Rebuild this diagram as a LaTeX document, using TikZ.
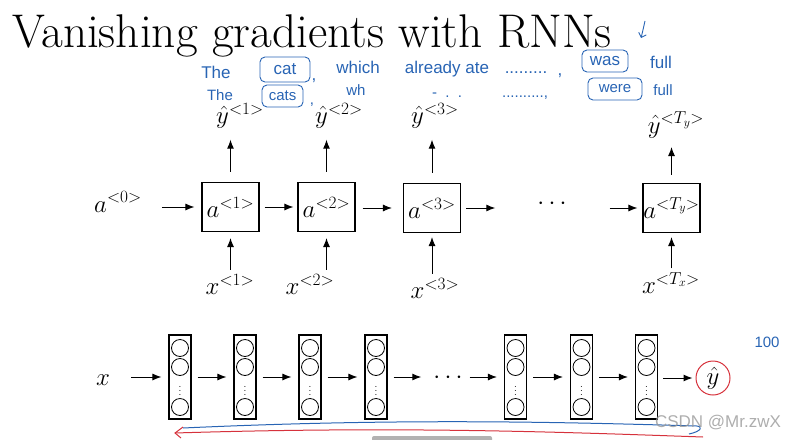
\documentclass[tikz,border=0pt]{standalone}
\usepackage{fontspec}
\newfontfamily\handfont{Liberation Sans}
\usetikzlibrary{arrows.meta}
\definecolor{inkblue}{RGB}{40,100,180}
\definecolor{inkred}{RGB}{214,50,60}

\begin{document}
\begin{tikzpicture}[x=1pt, y=-1pt,
  cell/.style={draw, line width=1.1pt, minimum width=57pt, minimum height=49pt, inner sep=0pt, font=\fontsize{24}{24}\selectfont},
  lbl/.style={inner sep=1pt, font=\fontsize{24}{24}\selectfont},
  link/.style={-{Latex[length=9pt,width=7pt]}, line width=1pt},
  layer/.style={draw, line width=1.1pt, minimum width=22pt, minimum height=84pt, inner sep=0pt,
    path picture={
      \draw[line width=0.8pt] (path picture bounding box.center) ++(0,-29) circle (8.5pt);
      \draw[line width=0.8pt] (path picture bounding box.center) ++(0,-10) circle (8.5pt);
      \draw[line width=0.8pt] (path picture bounding box.center) ++(0,30) circle (8.5pt);
      \path (path picture bounding box.center) ++(0,11) node[inner sep=0pt, font=\fontsize{10}{10}\selectfont] {$\vdots$};
    }},
  hand/.style={inkblue, inner sep=0pt, anchor=base, font=\handfont\fontsize{17}{17}\selectfont},
  handsm/.style={hand, font=\handfont\fontsize{15}{15}\selectfont},
  wordbox/.style={draw=inkblue, line width=0.9pt, rounded corners=5pt, inner sep=0pt}]
\useasboundingbox (0,0) rectangle (799,439);

\node[anchor=base west, inner sep=0pt, font=\fontsize{47.3}{47.3}\selectfont] (title) at (12,47) {Vanishing gradients with RNNs};

\node[hand] (the1) at (216,78) {The};
\node[wordbox, minimum width=50pt, minimum height=25pt, hand, anchor=center] (cat) at (285,69.5) {cat};
\node[hand] (c1) at (314,80) {,};
\node[hand] (which) at (358,73) {which};
\node[hand] (ate) at (447,73) {already ate};
\node[hand] (dots1) at (526,73) {.........};
\node[hand] (c2) at (560,75) {,};
\node[wordbox, minimum width=46pt, minimum height=22pt, hand, anchor=center] (was) at (605,61) {was};
\node[hand] (full1) at (661,68) {full};
\draw[inkblue, line width=0.9pt, -{Straight Barb[length=4pt]}] (645,21) .. controls (644,29) .. (641,38);

\node[handsm] (the2) at (220,100) {The};
\node[wordbox, minimum width=41pt, minimum height=22pt, handsm, anchor=center] (cats) at (282.5,96) {cats};
\node[handsm] (c3) at (312,104) {,};
\node[handsm] (wh) at (356,95) {wh};
\node[handsm] (dots2) at (447,97) {-\ \ .\ \ .};
\node[handsm] (dots3) at (525,97) {..........,};
\node[wordbox, minimum width=54pt, minimum height=22pt, handsm, anchor=center] (were) at (615,89) {were};
\node[handsm] (full2) at (663,95) {full};

\node[lbl, anchor=base] (a0) at (118,212) {$a^{<0>}$};
\node[cell] (a1) at (230.5,207) {$a^{<1>}$};
\node[cell] (a2) at (326.5,207) {$a^{<2>}$};
\node[cell] (a3) at (432,208) {$a^{<3>}$};
\node[lbl] (dotsA) at (552,204) {$\cdots$};
\node[cell] (aT) at (671.5,208) {$a^{<T_y>}$};

\node[lbl] (y1) at (240,116) {$\hat{y}^{<1>}$};
\node[lbl] (y2) at (339,116) {$\hat{y}^{<2>}$};
\node[lbl] (y3) at (435,116) {$\hat{y}^{<3>}$};
\node[lbl] (yT) at (676,125) {$\hat{y}^{<T_y>}$};

\node[lbl] (x1) at (230,284) {$x^{<1>}$};
\node[lbl] (x2) at (310,284) {$x^{<2>}$};
\node[lbl] (x3) at (435,288) {$x^{<3>}$};
\node[lbl] (xT) at (671,283) {$x^{<T_x>}$};

\draw[link, shorten <=19pt, shorten >=7pt] (a0.east |- a1) -- (a1.west);
\draw[link, shorten <=5pt, shorten >=4pt] (a1) -- (a2);
\draw[link, shorten <=7pt, shorten >=11pt] (a2.east |- a3) -- (a3.west);
\draw[link, shorten <=5pt, shorten >=41pt] (a3.east) -- (a3.east -| dotsA.west);
\draw[link, shorten <=42pt, shorten >=5pt] (aT.west -| dotsA.east) -- (aT.west);

\draw[link, shorten <=10pt, shorten >=10pt] (a1.north) -- (a1.north |- y1.south);
\draw[link, shorten <=10pt, shorten >=10pt] (a2.north) -- (a2.north |- y2.south);
\draw[link, shorten <=10pt, shorten >=10pt] (a3.north) -- (a3.north |- y3.south);
\draw[link, shorten <=8pt, shorten >=8pt] (aT.north) -- (aT.north |- yT.south);

\draw[link, shorten <=3pt, shorten >=6pt] (a1.south |- x1.north) -- (a1.south);
\draw[link, shorten <=3pt, shorten >=6pt] (a2.south |- x2.north) -- (a2.south);
\draw[link, shorten <=3pt, shorten >=4pt] (a3.south |- x3.north) -- (a3.south);
\draw[link, shorten <=3pt, shorten >=4pt] (aT.south |- xT.north) -- (aT.south);

\node[lbl] (xin) at (103,380) {$x$};
\node[layer] (l1) at (180,377) {};
\node[layer] (l2) at (245,377) {};
\node[layer] (l3) at (310,377) {};
\node[layer] (l4) at (376,377) {};
\node[lbl] (dotsB) at (448,378) {$\cdots$};
\node[layer] (l5) at (515.5,377) {};
\node[layer] (l6) at (581.5,377) {};
\node[layer] (l7) at (646.5,377) {};
\node[lbl, draw=inkred, circle, line width=1pt, minimum size=34pt, inner sep=0pt] (yh) at (713,378) {$\hat{y}$};

\draw[link, shorten <=20pt, shorten >=7pt] (xin.east |- l1) -- (l1.west);
\draw[link, shorten <=6pt, shorten >=7pt] (l1) -- (l2);
\draw[link, shorten <=6pt, shorten >=7pt] (l2) -- (l3);
\draw[link, shorten <=6pt, shorten >=7pt] (l3) -- (l4);
\draw[link, shorten <=6pt, shorten >=11pt] (l4.east) -- (l4.east -| dotsB.west);
\draw[link, shorten <=6pt, shorten >=7pt] (l5.west -| dotsB.east) -- (l5.west);
\draw[link, shorten <=6pt, shorten >=7pt] (l5) -- (l6);
\draw[link, shorten <=6pt, shorten >=7pt] (l6) -- (l7);
\draw[link, shorten <=5pt, shorten >=3pt] (l7.east |- yh) -- (yh.west);

\node[handsm] (hundred) at (767,347) {100};

\draw[inkblue, line width=1pt] (689,434) .. controls (703,431) and (702,426) .. (697,426) .. controls (560,422) and (400,418) .. (183,428);
\draw[inkred, line width=1pt] (703,437) .. controls (560,432) and (400,426) .. (175,433);
\draw[inkred, line width=1pt] (183,427) -- (175,433) -- (181,438);
\fill[gray!60, rounded corners=2pt] (372,436) rectangle (492,445);

\node[anchor=base, inner sep=0pt, gray!80, opacity=0.8, font=\handfont\fontsize{17}{17}\selectfont] (mark) at (718,427) {CSDN @Mr.zwX};
\end{tikzpicture}
\end{document}
